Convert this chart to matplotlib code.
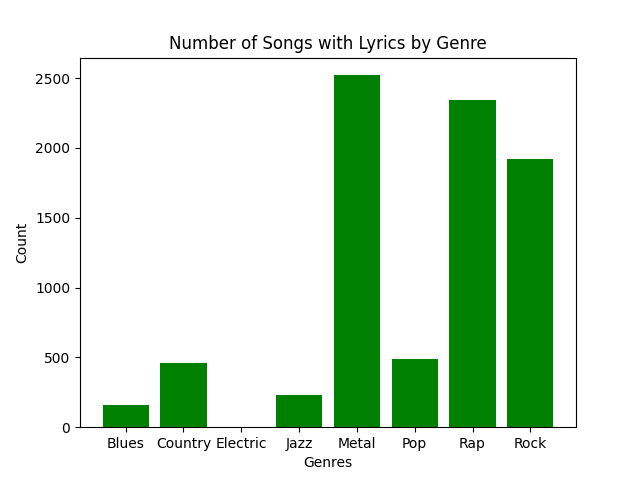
import matplotlib
matplotlib.use("Agg")
import matplotlib.pyplot as plt

genres = ["Blues", "Country", "Electric", "Jazz", "Metal", "Pop", "Rap", "Rock"]
counts = [158, 458, 0, 229, 2521, 487, 2342, 1920]

fig, ax = plt.subplots(figsize=(6.4, 4.8), dpi=100)
ax.bar(genres, counts, color="green")
ax.set_title("Number of Songs with Lyrics by Genre")
ax.set_xlabel("Genres")
ax.set_ylabel("Count")
fig.savefig("out.png")
